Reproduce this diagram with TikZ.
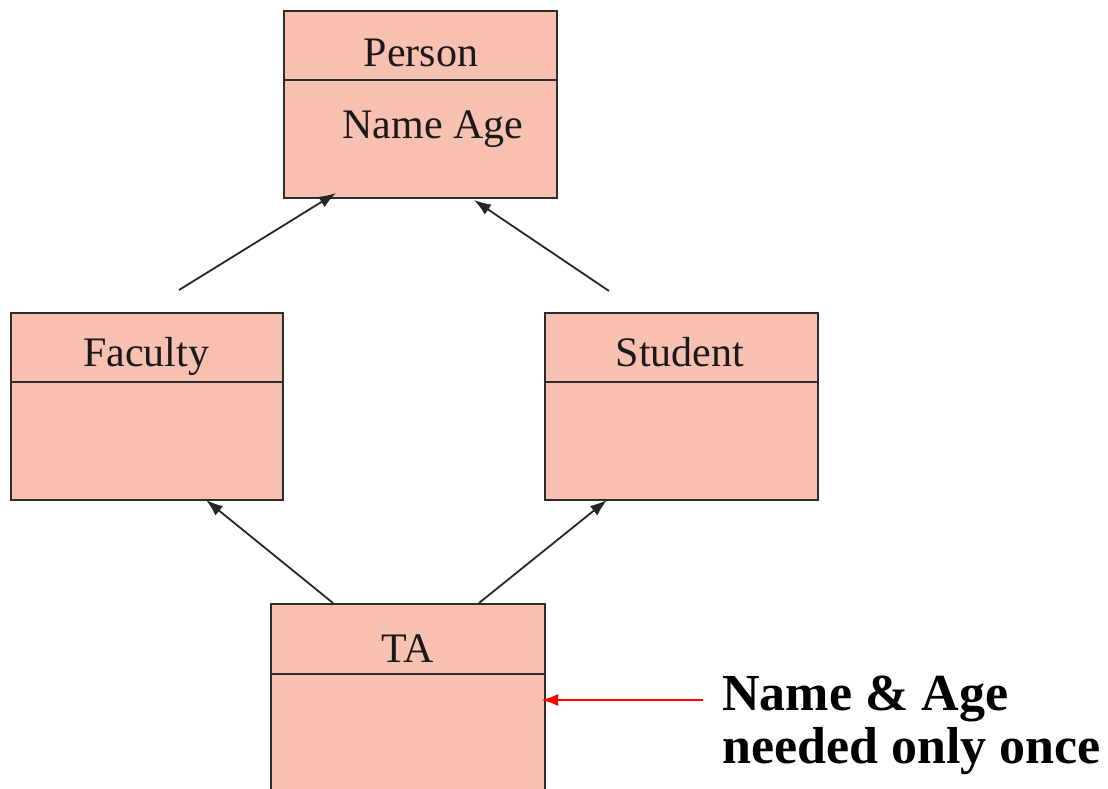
\documentclass[tikz,border=0pt]{standalone}
\usepackage{fontspec}
\setmainfont{Liberation Serif}
\usetikzlibrary{arrows.meta}
\definecolor{boxfill}{RGB}{248,192,176}
\definecolor{boxline}{RGB}{45,45,45}
\tikzset{
  cls/.style={draw=boxline, fill=boxfill, line width=2pt, rectangle, inner sep=0pt, anchor=north west},
  divider/.style={draw=boxline, line width=2pt},
  lbl/.style={inner sep=0pt, anchor=base, font=\fontsize{42}{48}\selectfont, text=black!90},
  inh/.style={draw=black!85, line width=1.8pt, -{Latex[length=17pt,width=12pt]}},
  note/.style={draw=red, line width=2.2pt, -{Latex[length=17pt,width=12pt]}},
  notetext/.style={inner sep=0pt, anchor=base west, align=left, font=\fontsize{52}{53}\selectfont\bfseries}
}
\begin{document}
\begin{tikzpicture}[x=1pt,y=-1pt]
\useasboundingbox (0,0) rectangle (1108,789);
% boxes
\node[cls, minimum width=273pt, minimum height=187pt] (person) at (283,10) {};
\node[cls, minimum width=272pt, minimum height=187pt] (faculty) at (10,312) {};
\node[cls, minimum width=273pt, minimum height=187pt] (student) at (544,312) {};
\node[cls, minimum width=274pt, minimum height=200pt] (ta) at (270,603) {};
% dividers
\draw[divider] (person.west |- 0,80) -- (person.east |- 0,80);
\draw[divider] (faculty.west |- 0,382) -- (faculty.east |- 0,382);
\draw[divider] (student.west |- 0,382) -- (student.east |- 0,382);
\draw[divider] (ta.west |- 0,674) -- (ta.east |- 0,674);
% labels
\node[lbl] (personlbl) at (421,67) {Person};
\node[lbl] (personattr) at (433,139) {Name Age};
\node[lbl] (facultylbl) at (146,366) {Faculty};
\node[lbl] (studentlbl) at (680,366) {Student};
\node[lbl] (talbl) at (408,662) {TA};
% connector ends
\coordinate (f1) at (179,290);
\coordinate (p1) at (336,193);
\coordinate (s1) at (609,291);
\coordinate (p2) at (474,200);
\coordinate (t1) at (333,603);
\coordinate (f2) at (206,500);
\coordinate (t2) at (479,603);
\coordinate (s2) at (607,500);
\coordinate (n1) at (703,700);
\coordinate (n2) at (541,700);
\draw[inh] (f1) -- (p1);
\draw[inh] (s1) -- (p2);
\draw[inh] (t1) -- (f2);
\draw[inh] (t2) -- (s2);
\draw[note] (n1) -- (n2);
\node[notetext] (notelbl) at (722,763) {Name \& Age\\needed only once};
\end{tikzpicture}
\end{document}
